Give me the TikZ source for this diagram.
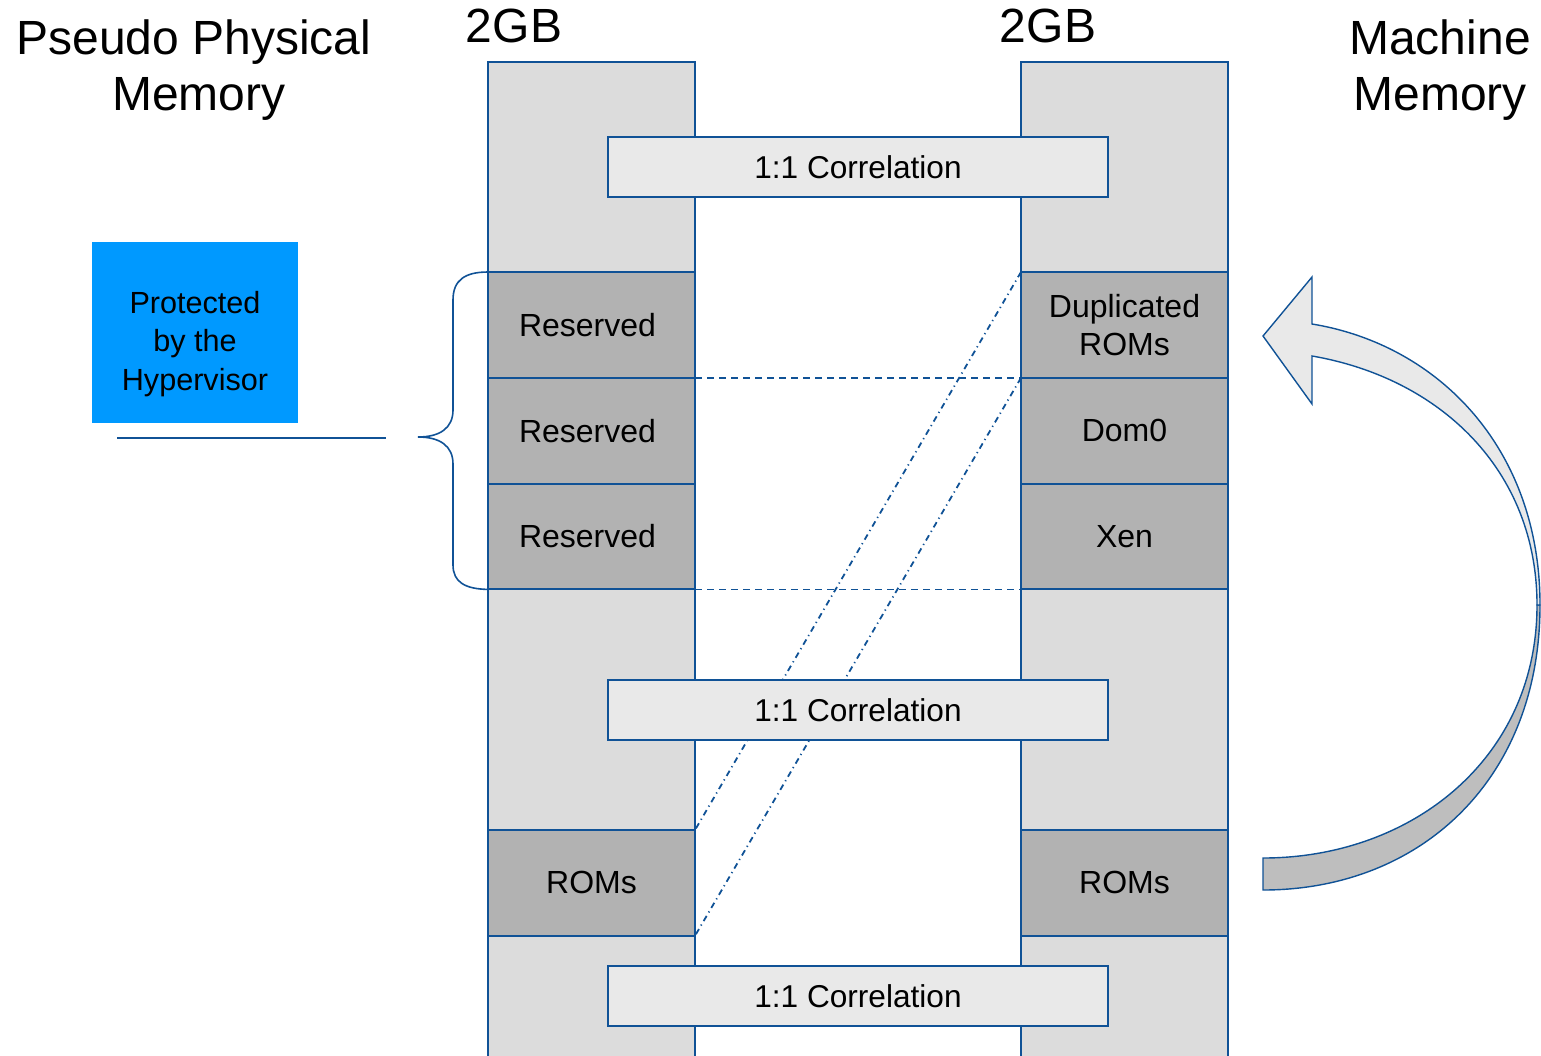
\documentclass[tikz,border=0pt]{standalone}
\usepackage{fontspec}
\setmainfont{Liberation Sans}
\usetikzlibrary{positioning}
\definecolor{xblue}{RGB}{16,82,150}
\definecolor{colgray}{RGB}{220,220,220}
\definecolor{blockgray}{RGB}{178,178,178}
\definecolor{corrgray}{RGB}{233,233,233}
\definecolor{hypblue}{RGB}{0,153,255}
\tikzset{
  memcol/.style={rectangle, draw=xblue, fill=colgray, line width=1pt, minimum width=103.5pt, minimum height=504pt, inner sep=0pt, outer sep=0pt},
  block/.style={rectangle, draw=xblue, fill=blockgray, line width=1pt, minimum width=103.5pt, minimum height=52.9pt, inner sep=0pt, outer sep=0pt, align=center, font=\fontsize{16}{19}\selectfont},
  corr/.style={rectangle, draw=xblue, fill=corrgray, line width=0.8pt, minimum width=250pt, minimum height=30pt, inner sep=0pt, outer sep=0pt, font=\fontsize{15.8}{19}\selectfont},
  title/.style={align=center, font=\fontsize{24}{28}\selectfont},
  map/.style={xblue, line width=0.9pt, dash pattern=on 3.5pt off 2.5pt},
  dup/.style={xblue, line width=0.9pt, dash pattern=on 3pt off 2pt on 0.6pt off 2pt}
}
\begin{document}
\begin{tikzpicture}[x=0.5pt, y=-0.5pt]
\useasboundingbox (0,0) rectangle (1541,1055);

% memory columns
\node (pseudo) [memcol, anchor=north] at (591.5,62) {};
\node (machine) [memcol, anchor=north] at (1124.5,62) {};
\node (size1) [title, anchor=south] at (514,50) {2GB};
\node (size2) [title, anchor=south] at (1048,50) {2GB};
\node (ptitle) [title] at (194,70) {Pseudo Physical\\\hspace{5pt}Memory};
\node (mtitle) [title] at (1440,70) {Machine\\Memory};

% guest side
\node (res1) [block, anchor=north] at (591.5,272) {Reserved\hspace{4pt}};
\node (res2) [block, below=0pt of res1] {Reserved\hspace{4pt}};
\node (res3) [block, below=0pt of res2] {Reserved\hspace{4pt}};
\node (romL) [block, anchor=north] at (591.5,830) {ROMs};

% machine side
\node (dupl) [block, anchor=north] at (1124.5,272) {Duplicated\\ROMs};
\node (dom0) [block, below=0pt of dupl] {Dom0};
\node (xen) [block, below=0pt of dom0] {Xen};
\node (romR) [block, anchor=north] at (1124.5,830) {ROMs};

% mappings
\draw [map] (res1.south east) -- (dupl.south west);
\draw [map] (res3.south east) -- (xen.south west);
\draw [dup] (dupl.north west) -- (romL.north east);
\draw [dup] (dom0.north west) -- (romL.south east);

\node (corr1) [corr] at (858,167) {1:1 Correlation};
\node (corr2) [corr] at (858,710) {1:1 Correlation};
\node (corr3) [corr] at (858,996) {1:1 Correlation};

% hypervisor region
\node (hyp) [rectangle, fill=hypblue, minimum width=103pt, minimum height=90.5pt, inner sep=0pt] at (195,332.5) {};
\node (hyptext) [align=center, font=\fontsize{15.3}{19.2}\selectfont] at (195,344) {Protected\\by the\\Hypervisor};
\coordinate (tip) at (418,437);
\draw [xblue, line width=0.8pt] (res1.north west) .. controls (465,272) and (453,280) .. (453,300) -- (453,410)
  .. controls (453,428) and (440,437) .. (tip) .. controls (440,437) and (453,446) .. (453,464)
  -- (453,565) .. controls (453,582) and (465,589) .. (res3.south west);
\coordinate (lineA) at (117,438);
\coordinate (lineB) at (386,438);
\draw [xblue, line width=0.8pt] (lineA) -- (lineB);

% copy of the ROMs
\filldraw [draw=xblue, fill=blockgray!85, line width=0.7pt] (1540,605) .. controls (1540,780) and (1420,890) .. (1263,890)
  -- (1263,858) .. controls (1410,858) and (1537,760) .. (1537,605) -- cycle;
\filldraw [draw=xblue, fill=corrgray, line width=0.7pt] (1312,356) -- (1312,404) -- (1263,336) -- (1312,277) -- (1312,324)
  .. controls (1440,345) and (1540,450) .. (1540,605) -- (1537,605)
  .. controls (1537,470) and (1440,378) .. (1312,356) -- cycle;
\end{tikzpicture}
\end{document}
